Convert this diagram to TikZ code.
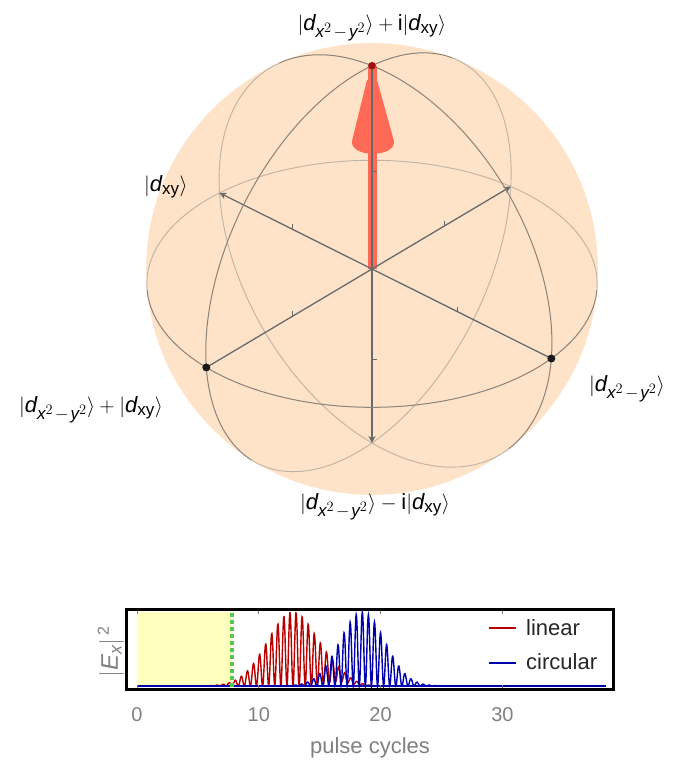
\documentclass[tikz,border=0pt]{standalone}
\usepackage{amsmath}
\usepackage{fontspec}
\setmainfont{Liberation Sans}
\usetikzlibrary{arrows.meta}
\DeclareMathSizes{22}{22}{17}{14}
\DeclareMathSizes{24}{24}{18}{15}
\definecolor{spherec}{RGB}{254,227,200}
\definecolor{vecc}{RGB}{255,106,86}
\definecolor{vecdot}{RGB}{165,15,15}
\definecolor{axisc}{RGB}{105,105,105}
\definecolor{frontc}{RGB}{140,130,120}
\definecolor{backc}{RGB}{192,178,162}
\definecolor{linc}{RGB}{185,0,0}
\definecolor{circc}{RGB}{0,0,175}
\definecolor{txtgray}{RGB}{128,128,128}
\definecolor{yelc}{RGB}{255,255,190}
\definecolor{grnc}{RGB}{85,200,75}

\pgfmathsetmacro\Vel{33}
\pgfmathsetmacro\Vaz{-47.5}
\def\VDist{7}
\def\VFoc{1565}
\pgfmathsetmacro\Vcx{cos(\Vel)*cos(\Vaz)}
\pgfmathsetmacro\Vcy{cos(\Vel)*sin(\Vaz)}
\pgfmathsetmacro\Vcz{sin(\Vel)}
\pgfmathsetmacro\Vrx{-sin(\Vaz)}
\pgfmathsetmacro\Vry{cos(\Vaz)}
\pgfmathsetmacro\Vux{-sin(\Vel)*cos(\Vaz)}
\pgfmathsetmacro\Vuy{-sin(\Vel)*sin(\Vaz)}
\pgfmathsetmacro\Vuz{cos(\Vel)}
\pgfmathsetmacro\VRad{\VFoc/sqrt(\VDist*\VDist-1)}
% visible ranges of the three great circles
\pgfmathsetmacro\eqT{atan2(\Vcy,\Vcx)}
\pgfmathsetmacro\eqW{acos(1/(\VDist*sqrt(\Vcx*\Vcx+\Vcy*\Vcy)))}
\pgfmathsetmacro\eqA{\eqT-\eqW}
\pgfmathsetmacro\eqB{\eqT+\eqW}
\pgfmathsetmacro\eqC{\eqT-\eqW+360}
\pgfmathsetmacro\mxT{atan2(\Vcx,\Vcz)}
\pgfmathsetmacro\mxW{acos(1/(\VDist*sqrt(\Vcx*\Vcx+\Vcz*\Vcz)))}
\pgfmathsetmacro\mxA{\mxT-\mxW}
\pgfmathsetmacro\mxB{\mxT+\mxW}
\pgfmathsetmacro\mxC{\mxT-\mxW+360}
\pgfmathsetmacro\myT{atan2(\Vcy,\Vcz)}
\pgfmathsetmacro\myW{acos(1/(\VDist*sqrt(\Vcy*\Vcy+\Vcz*\Vcz)))}
\pgfmathsetmacro\myA{\myT-\myW}
\pgfmathsetmacro\myB{\myT+\myW}
\pgfmathsetmacro\myC{\myT-\myW+360}

\tikzset{
  declare function={
    dd(\x,\y,\z)=\VDist-((\Vcx)*(\x)+(\Vcy)*(\y)+(\Vcz)*(\z));
    sx(\x,\y,\z)=\VFoc*((\Vrx)*(\x)+(\Vry)*(\y))/dd(\x,\y,\z);
    sy(\x,\y,\z)=0-\VFoc*((\Vux)*(\x)+(\Vuy)*(\y)+(\Vuz)*(\z))/dd(\x,\y,\z);
  },
  backarc/.style={draw=backc, line width=0.9pt},
  frontarc/.style={draw=frontc, line width=1pt},
  axisline/.style={draw=axisc, line width=1.3pt},
  axisarrow/.style={axisline, -{Stealth[length=7pt,width=7pt]}},
  tickmark/.style={draw=axisc, line width=1pt},
  lbl/.style={font=\fontsize{22}{26}\selectfont, inner sep=0pt, anchor=base},
  plotlbl/.style={font=\fontsize{20}{24}\selectfont, text=txtgray, inner sep=0pt},
  legendlbl/.style={font=\fontsize{22}{26}\selectfont, text=black!85, inner sep=0pt, anchor=base west},
}
\newcommand{\dA}{\textit{d}_{\textit{x}^{2}\mkern2mu{-}\mkern2mu\textit{y}^{2}}}
\newcommand{\dB}{\textit{d}_{\textup{xy}}}

\begin{document}
\begin{tikzpicture}[x=1pt,y=-1pt]
\useasboundingbox (0,0) rectangle (675,761);

% ---------------- Bloch sphere ----------------
\begin{scope}[shift={(372,269)}]
  \coordinate (O) at (0,0);
  \coordinate (N) at ({sx(0,0,1)},{sy(0,0,1)});
  \coordinate (S) at ({sx(0,0,-1)},{sy(0,0,-1)});
  \coordinate (A) at ({sx(1,0,0)},{sy(1,0,0)});
  \coordinate (B) at ({sx(-1,0,0)},{sy(-1,0,0)});
  \coordinate (C) at ({sx(0,-1,0)},{sy(0,-1,0)});
  \coordinate (D) at ({sx(0,1,0)},{sy(0,1,0)});
  \coordinate (mN) at ({sx(0,0,0.5)},{sy(0,0,0.5)});
  \coordinate (mS) at ({sx(0,0,-0.5)},{sy(0,0,-0.5)});
  \coordinate (mA) at ({sx(0.5,0,0)},{sy(0.5,0,0)});
  \coordinate (mB) at ({sx(-0.5,0,0)},{sy(-0.5,0,0)});
  \coordinate (mC) at ({sx(0,-0.5,0)},{sy(0,-0.5,0)});
  \coordinate (mD) at ({sx(0,0.5,0)},{sy(0,0.5,0)});

  \fill[spherec] (O) circle[radius=\VRad];

  % back halves
  \draw[backarc] plot[domain=\eqB:\eqC,samples=120,variable=\t] ({sx(cos(\t),sin(\t),0)},{sy(cos(\t),sin(\t),0)});
  \draw[backarc] plot[domain=\mxB:\mxC,samples=120,variable=\t] ({sx(sin(\t),0,cos(\t))},{sy(sin(\t),0,cos(\t))});
  \draw[backarc] plot[domain=\myB:\myC,samples=120,variable=\t] ({sx(0,sin(\t),cos(\t))},{sy(0,sin(\t),cos(\t))});

  % state vector
  \draw[vecc, line width=9pt] (O) -- (N);
\end{scope}
  \fill[vecc] (367,80) -- (352,141) .. controls (350,158) and (396,158) .. (394,141) -- (377,80) -- cycle;
\begin{scope}[shift={(372,269)}]
  % axes
  \draw[axisarrow] (O) -- (B);
  \draw[axisarrow] (O) -- (D);
  \draw[axisarrow] (O) -- (S);
  \draw[axisline] (O) -- (A);
  \draw[axisline] (O) -- (C);
  \draw[axisline] (O) -- (N);
  \draw[tickmark] (mA) -- ++(0,-5);
  \draw[tickmark] (mB) -- ++(0,-5);
  \draw[tickmark] (mC) -- ++(0,-5);
  \draw[tickmark] (mD) -- ++(0,-5);
  \draw[tickmark] (mN) -- ++(5,0);
  \draw[tickmark] (mS) -- ++(5,0);

  % front halves
  \draw[frontarc] plot[domain=\eqA:\eqB,samples=120,variable=\t] ({sx(cos(\t),sin(\t),0)},{sy(cos(\t),sin(\t),0)});
  \draw[frontarc] plot[domain=\mxA:\mxB,samples=120,variable=\t] ({sx(sin(\t),0,cos(\t))},{sy(sin(\t),0,cos(\t))});
  \draw[frontarc] plot[domain=\myA:\myB,samples=120,variable=\t] ({sx(0,sin(\t),cos(\t))},{sy(0,sin(\t),cos(\t))});

  \fill[black!90] (A) circle[radius=4];
  \fill[black!90] (C) circle[radius=4];
  \fill[vecdot] (N) circle[radius=3.8];
\end{scope}

% labels
\node[lbl] (lN) at (372,30) {$|\dA\rangle + \mathrm{i}|\dB\rangle$};
\node[lbl] (lS) at (375,509) {$|\dA\rangle - \mathrm{i}|\dB\rangle$};
\node[lbl] (lB) at (166,191) {$|\dB\rangle$};
\node[lbl] (lA) at (627,391) {$|\dA\rangle$};
\node[lbl] (lC) at (91,412) {$|\dA\rangle + |\dB\rangle$};

% ---------------- pulse plot ----------------
\begin{scope}[shift={(137,686)},xscale=12.18,yscale=74]
  \fill[yelc] (0,0) rectangle (7.8,-1);
  \draw[linc, line width=1.4pt] (0,0) -- (38.5,0);
  \draw[linc, line width=1.4pt] plot[domain=6:22,samples=641,variable=\t]
    (\t,{0-(exp(-((\t-12.8)^2)/8.82)*(cos(360*(\t-0.06)))^2 + 0.06*exp(-((\t-16.5)^2)/2))});
  \draw[circc, line width=1.4pt] (0,0) -- (38.5,0);
  \draw[circc, line width=1.4pt] plot[domain=11:27,samples=641,variable=\t]
    (\t,{0-exp(-((\t-18.5)^2)/6.85)*(cos(360*\t))^2});
\end{scope}
\coordinate (g1) at (232,613);
\coordinate (g2) at (232,687);
\draw[grnc, line width=4pt, dash pattern=on 3.5pt off 3.5pt] (g1) -- (g2);
\draw[line width=3pt] (126.5,609.5) rectangle (613,689.5);
\foreach \xv in {137,258.8,380.6,502.4}{
  \draw[txtgray, line width=0.8pt] (\xv,611) -- (\xv,614);
  \draw[txtgray, line width=0.8pt] (\xv,688) -- (\xv,685);
}
\node[plotlbl] (t0) at (137,715) {0};
\node[plotlbl] (t10) at (258.8,715) {10};
\node[plotlbl] (t20) at (380.6,715) {20};
\node[plotlbl] (t30) at (502.4,715) {30};
\node[plotlbl, font=\fontsize{22}{26}\selectfont] (xl) at (370,748) {pulse cycles};
\node[plotlbl, rotate=90, font=\fontsize{24}{28}\selectfont] (yl) at (111,652) {$|\textit{E}_{\textit{x}}|^{\,\text{\fontsize{16}{16}\selectfont 2}}$};

% legend
\coordinate (lr1) at (489,628);
\coordinate (lr2) at (516,628);
\coordinate (lb1) at (489,663);
\coordinate (lb2) at (516,663);
\draw[linc, line width=1.4pt] (lr1) -- (lr2);
\draw[circc, line width=1.4pt] (lb1) -- (lb2);
\node[legendlbl] (ll) at (526,635) {linear};
\node[legendlbl] (lc) at (526,669) {circular};
\end{tikzpicture}
\end{document}
